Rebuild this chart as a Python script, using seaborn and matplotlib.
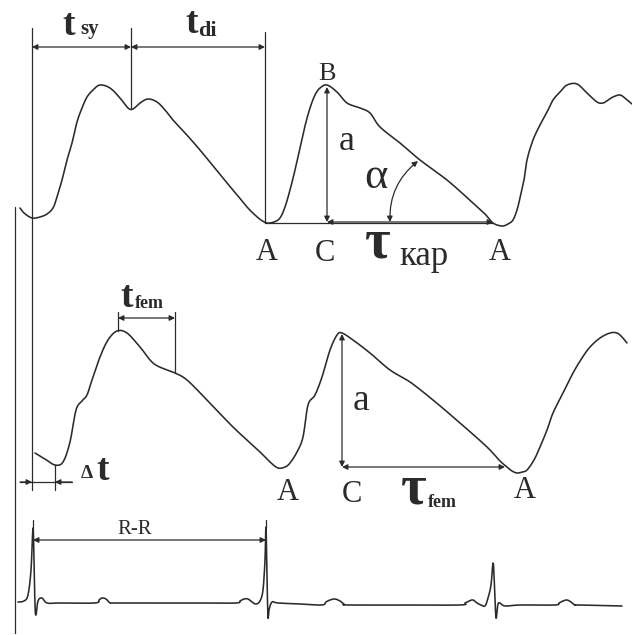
import numpy as np
import matplotlib
matplotlib.use("Agg")
import matplotlib.pyplot as plt
import seaborn as sns

# ---- traced waveforms (x, y in drawing units, y grows downward) ----
carotid_x = [20, 24, 32, 40, 47, 53, 57, 62, 67, 72, 77, 82, 87, 93, 100, 110, 120, 128, 133,
             140, 148, 157, 165, 173, 186, 200, 213, 227, 238, 247, 255, 261, 267, 274, 280, 285,
             290, 295, 300, 305, 310, 315, 320, 327, 337, 347, 360, 370, 380, 400, 420, 447, 473,
             485, 493, 502, 508, 513, 517, 520, 524, 527, 533, 540, 547, 553, 560, 567, 577, 587,
             597, 603, 608, 613, 620, 626, 632]
carotid_y = [208, 213, 218, 217, 214, 208, 197, 180, 160, 143, 122, 108, 97, 90, 85, 88, 98, 108, 109,
             103, 99, 102, 110, 120, 134, 150, 166, 183, 196, 207, 215, 220, 223, 222, 218, 207,
             190, 170, 148, 126, 108, 95, 88, 85, 92, 103, 108, 113, 127, 143, 160, 180, 203,
             214, 223, 226, 224, 220, 210, 198, 180, 160, 140, 125, 112, 100, 92, 85, 84, 93,
             102, 103, 100, 97, 95, 99, 104]

femoral_x = [35, 45, 55, 63, 70, 76, 82, 87, 92, 100, 108, 117, 127, 140, 153, 167, 175, 187,
             207, 233, 260, 270, 278, 285, 290, 297, 303, 308, 315, 322, 330, 337, 342, 353, 370,
             390, 410, 433, 460, 487, 500, 507, 512, 517, 522, 527, 534, 540, 547, 553, 563, 573,
             582, 590, 600, 610, 617, 622, 627]
femoral_y = [453, 459, 465, 462, 442, 410, 401, 395, 380, 357, 340, 331, 333, 347, 363, 370, 373, 380,
             400, 427, 452, 462, 468, 467, 463, 452, 437, 405, 395, 377, 350, 335, 333, 340, 353,
             370, 382, 400, 423, 447, 461, 467, 471, 473, 472, 470, 460, 447, 430, 413, 393, 373,
             358, 347, 338, 333, 333, 337, 343]

ecg_x = [18, 24, 28, 31, 33, 34, 35, 36, 38, 42, 47, 60, 95, 99, 102, 106, 110, 113, 130, 200,
         236, 240, 244, 248, 252, 256, 260, 263, 265, 266, 267, 268, 269, 272, 278, 300, 322, 326,
         330, 335, 340, 344, 348, 400, 460, 465, 469, 473, 477, 481, 485, 488, 491, 493, 494, 495,
         496, 497, 498, 500, 505, 520, 555, 559, 563, 567, 571, 575, 580, 622]
ecg_y = [602, 601, 595, 570, 528, 560, 605, 615, 601, 598, 603, 603, 603, 600, 598, 599, 603, 603, 603, 603,
         603, 601, 599, 599, 602, 604, 601, 590, 560, 527, 580, 617, 610, 602, 603, 604, 605, 602,
         600, 599, 601, 604, 605, 605, 605, 603, 601, 600, 603, 605, 606, 598, 585, 563, 575, 600,
         618, 612, 604, 603, 606, 605, 605, 603, 601, 600, 602, 605, 605, 606]

ink = "#2b2b2b"
serif = ["Liberation Serif", "DejaVu Serif"]


def smooth(xs, ys, n=12):
    """Catmull-Rom curve through the traced points."""
    p = np.column_stack([xs, ys]).astype(float)
    p = np.vstack([p[0], p, p[-1]])
    out = []
    t = np.linspace(0, 1, n, endpoint=False)[:, None]
    for i in range(1, len(p) - 2):
        p0, p1, p2, p3 = p[i - 1], p[i], p[i + 1], p[i + 2]
        seg = 0.5 * ((2 * p1) + (-p0 + p2) * t + (2 * p0 - 5 * p1 + 4 * p2 - p3) * t ** 2
                     + (-p0 + 3 * p1 - 3 * p2 + p3) * t ** 3)
        out.append(seg)
    out.append(p[-2][None, :])
    out = np.vstack(out)
    return out[:, 0], out[:, 1]


sns.set_theme(style="white")
fig = plt.figure(figsize=(6.32, 6.35), dpi=100)
ax = fig.add_axes([0, 0, 1, 1])
ax.set_xlim(0, 632)
ax.set_ylim(635, 0)
ax.axis("off")

for xs, ys, n in [(carotid_x, carotid_y, 10), (femoral_x, femoral_y, 10), (ecg_x, ecg_y, 4)]:
    sx, sy = smooth(xs, ys, n)
    sns.lineplot(x=sx, y=sy, sort=False, estimator=None, ax=ax, color=ink, lw=1.15)

lkw = dict(color=ink, lw=0.9)
# guide lines
ax.plot([15, 15], [207, 633], **lkw)
ax.plot([32, 32], [28, 490], **lkw)
ax.plot([131, 131], [28, 109], **lkw)
ax.plot([265, 265], [32, 223], **lkw)
ax.plot([265, 493], [223, 223], **lkw)
ax.plot([118, 118], [312, 331], **lkw)
ax.plot([175, 175], [312, 373], **lkw)
ax.plot([55, 55], [465, 490], **lkw)
ax.plot([33, 33], [520, 528], **lkw)
ax.plot([266, 266], [520, 528], **lkw)


def arrow(p0, p1, style="<|-|>", rad=0.0):
    ax.annotate("", xy=p1, xytext=p0,
                arrowprops=dict(arrowstyle=style, color=ink, lw=0.9, mutation_scale=8,
                                shrinkA=0, shrinkB=0,
                                connectionstyle=f"arc3,rad={rad}"))


arrow((32, 47), (131, 47))
arrow((131, 47), (265, 47))
arrow((327, 87), (327, 222))
arrow((327, 222), (493, 222))
arrow((390, 222), (418, 161), rad=-0.25)
arrow((118, 318), (175, 318))
arrow((342, 334), (342, 467))
arrow((342, 467), (505, 467))
arrow((33, 540), (266, 540))
ax.plot([20, 72], [482, 482], **lkw)
arrow((20, 482), (32, 482), style="-|>")
arrow((72, 482), (55, 482), style="-|>")


# labels
def txt(x, y, s, size, weight="normal", **kw):
    ax.text(x, y, s, fontsize=size, family=serif, weight=weight, color=ink,
            ha="left", va="baseline", **kw)


txt(62, 35, "t", 27, "bold")
txt(80, 34, "sy", 15, "bold")
txt(185, 33, "t", 27, "bold")
txt(198, 36, "di", 16, "bold")
txt(318, 80, "B", 19)
txt(339, 150, "a", 26)
txt(364, 188, "α", 32)
txt(256, 260, "A", 22)
txt(315, 261, "C", 22)
txt(365, 258, "τ", 40, "bold")
txt(399, 265, "кар", 25)
txt(489, 260, "A", 22)

txt(120, 307, "t", 27, "bold")
txt(135, 308, "fem", 13, "bold")
txt(353, 410, "a", 27)
txt(81, 478, "Δ", 14, "bold")
txt(96, 480, "t", 27, "bold")
txt(277, 500, "A", 22)
txt(342, 502, "C", 22)
txt(401, 503, "τ", 40, "bold")
txt(428, 507, "fem", 13, "bold")
txt(514, 498, "A", 22)
txt(117, 534, "R-R", 15)

fig.savefig("out.png", dpi=100, facecolor="white")
